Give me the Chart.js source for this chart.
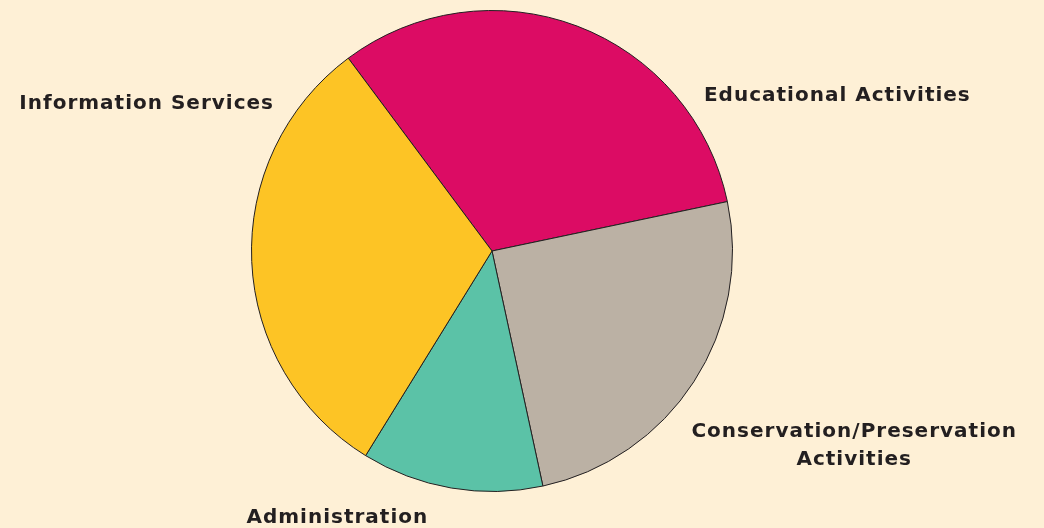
<!DOCTYPE html>
<html>
<head>
<meta charset="utf-8">
<script src="https://cdn.jsdelivr.net/npm/chart.js@4"></script>
<style>
  html, body { margin: 0; padding: 0; background: #fef0d6; }
  #wrap { width: 1044px; height: 528px; position: relative; }
</style>
</head>
<body>
<div id="wrap"><canvas id="chart"></canvas></div>
<script>
// Datos del gráfico
const categorias = [
  'Educational Activities',
  'Conservation/Preservation Activities',
  'Administration',
  'Information Services'
];
const valores = [31.9, 24.9, 12.2, 31.0];
const colores = ['#dc0c64', '#bbb1a4', '#5bc2a7', '#fdc425'];

// Posición de las etiquetas (en radios, relativa al centro del pastel)
const etiquetasPos = [
  { dx: 1.436, dy: -0.647, lineas: ['Educational Activities'] },
  { dx: 1.506, dy: 0.809, lineas: ['Conservation/Preservation', 'Activities'] },
  { dx: -0.643, dy: 1.108, lineas: ['Administration'] },
  { dx: -1.436, dy: -0.614, lineas: ['Information Services'] }
];

const etiquetasPlugin = {
  id: 'etiquetas',
  afterDraw(chart) {
    const arc = chart.getDatasetMeta(0).data[0];
    if (!arc) return;
    const { x, y, outerRadius } = arc;
    const ctx = chart.ctx;
    ctx.save();
    ctx.fillStyle = '#231f20';
    ctx.font = 'bold 20px "DejaVu Sans", sans-serif';
    ctx.letterSpacing = '1px';
    ctx.textAlign = 'center';
    ctx.textBaseline = 'middle';
    etiquetasPos.forEach(p => {
      const cx = x + p.dx * outerRadius;
      const cy = y + p.dy * outerRadius;
      const alto = 28;
      const inicio = cy - (p.lineas.length - 1) * alto / 2;
      p.lineas.forEach((l, i) => ctx.fillText(l, cx, inicio + i * alto));
    });
    ctx.restore();
  }
};

const ctx = document.getElementById('chart').getContext('2d');
new Chart(ctx, {
  type: 'pie',
  data: {
    labels: categorias,
    datasets: [{
      data: valores,
      backgroundColor: colores,
      borderColor: '#231f20',
      borderWidth: 1
    }]
  },
  options: {
    responsive: true,
    maintainAspectRatio: false,
    animation: false,
    rotation: -36.7,
    layout: { padding: { top: 10, bottom: 36, left: 0, right: 60 } },
    plugins: {
      legend: { display: false },
      tooltip: { enabled: false }
    }
  },
  plugins: [etiquetasPlugin]
});
</script>
</body>
</html>
